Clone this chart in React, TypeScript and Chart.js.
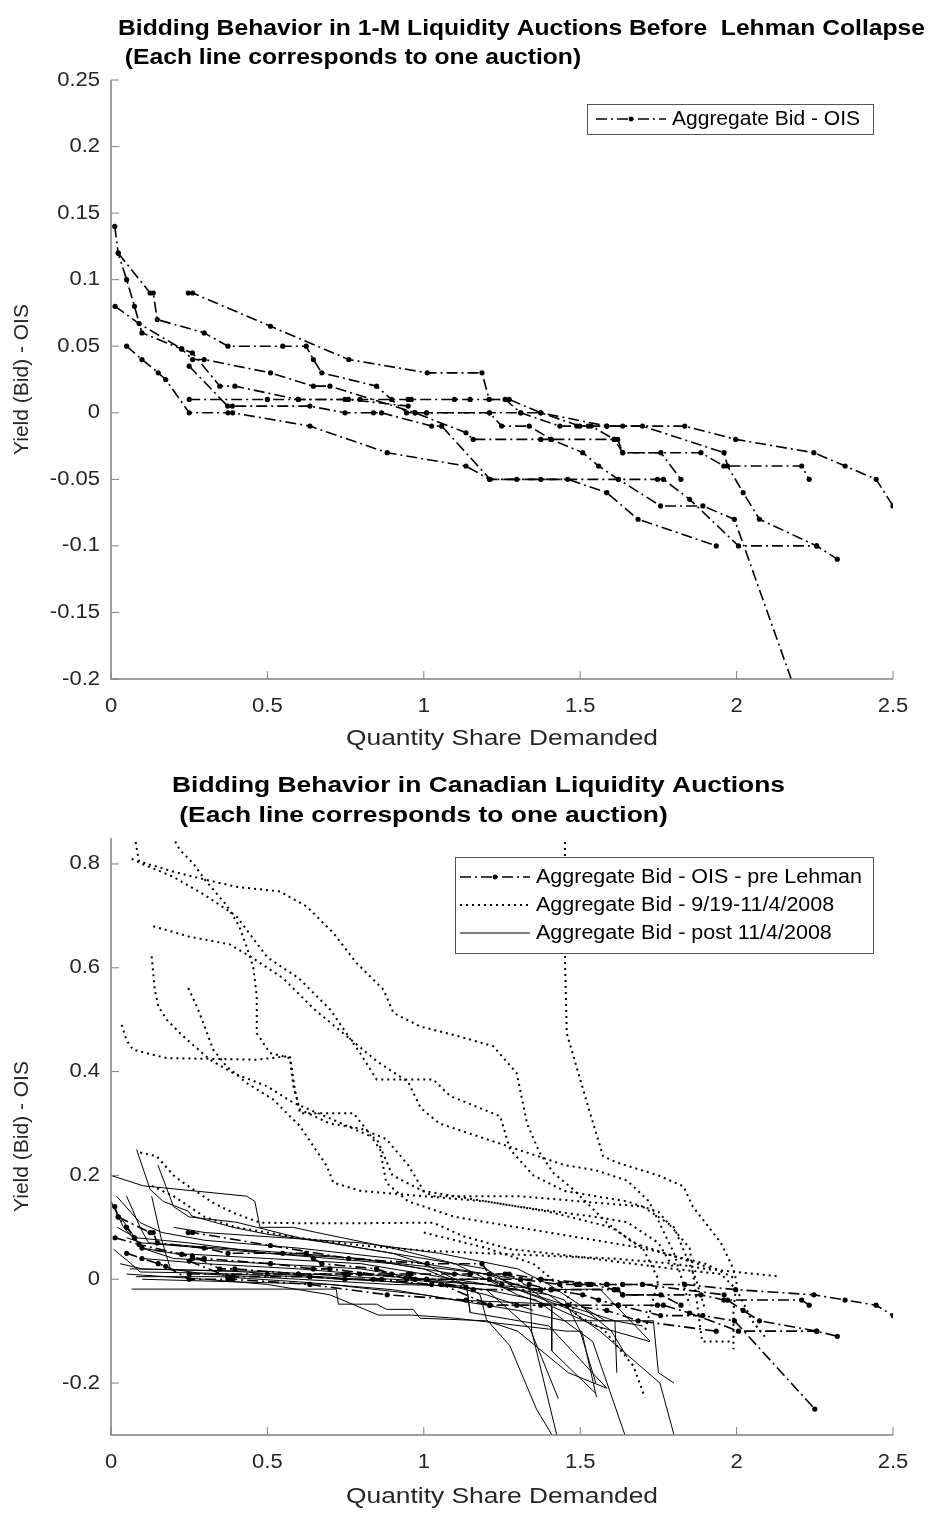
import { useEffect, useRef } from "react";
import { Chart, registerables } from "chart.js";

Chart.register(...registerables);

type Pt = [number, number];

const FONT = "'Liberation Sans', Arial, Helvetica, sans-serif";
const INK = "#000000";
const LABEL_INK = "#262626";
const AXIS_INK = "#808080";

// ---- axis ticks and texts ----
const X_TICKS = [0, 0.5, 1, 1.5, 2, 2.5];
const TOP_Y_TICKS = [-0.2, -0.15, -0.1, -0.05, 0, 0.05, 0.1, 0.15, 0.2, 0.25];
const BOTTOM_Y_TICKS = [-0.2, 0, 0.2, 0.4, 0.6, 0.8];

const TOP_TITLE = [
  "Bidding Behavior in 1-M Liquidity Auctions Before  Lehman Collapse",
  " (Each line corresponds to one auction)",
];
const BOTTOM_TITLE = [
  "Bidding Behavior in Canadian Liquidity Auctions",
  " (Each line corresponds to one auction)",
];
const X_LABEL = "Quantity Share Demanded";
const Y_LABEL = "Yield (Bid) - OIS";
const TOP_LEGEND = ["Aggregate Bid - OIS"];
const BOTTOM_LEGEND = [
  "Aggregate Bid - OIS - pre Lehman",
  "Aggregate Bid - 9/19-11/4/2008",
  "Aggregate Bid - post 11/4/2008",
];

// ---- pre-Lehman auctions (quantity share, yield - OIS) ----
const PRE_1: Pt[] = [[0.012,0.14],[0.023,0.12],[0.05,0.1],[0.075,0.08],[0.099,0.06],[0.226,0.048],[0.261,0.04],[0.298,0.04],[0.51,0.03],[0.647,0.02],[0.7,0.02],[0.972,0],[1.009,0],[1.21,0],[1.249,-0.01],[1.337,-0.01],[1.407,-0.02],[1.609,-0.02],[1.62,-0.02],[1.636,-0.03],[1.886,-0.03],[1.959,-0.04],[2.208,-0.04],[2.232,-0.05]];
const PRE_2: Pt[] = [[0.023,0.12],[0.125,0.09],[0.135,0.09],[0.148,0.07],[0.298,0.06],[0.374,0.05],[0.549,0.05],[0.624,0.05],[0.647,0.04],[0.674,0.03],[0.849,0.02],[0.945,0],[1.009,0],[1.21,0],[1.31,0],[1.374,0],[1.585,-0.01],[1.636,-0.01],[1.699,-0.01],[1.96,-0.03],[1.971,-0.04],[2.021,-0.06],[2.073,-0.08],[2.256,-0.1],[2.322,-0.11]];
const PRE_3: Pt[] = [[0.013,0.08],[0.09,0.067],[0.226,0.048],[0.26,0.045],[0.348,0.02],[0.396,0.02],[0.599,0.01],[0.748,0.01],[0.759,0.01],[0.95,0.005],[0.972,0],[1.135,-0.015],[1.158,-0.02],[1.374,-0.02],[1.407,-0.02],[1.508,-0.03],[1.559,-0.04],[1.622,-0.05],[1.757,-0.07],[1.892,-0.07],[1.993,-0.08],[2.25,-0.25]];
const PRE_4: Pt[] = [[0.05,0.05],[0.099,0.04],[0.151,0.03],[0.175,0.025],[0.25,0],[0.374,0],[0.389,0],[0.636,-0.01],[0.883,-0.03],[1.135,-0.04],[1.21,-0.05],[1.46,-0.05],[1.585,-0.06],[1.685,-0.08],[1.935,-0.1]];
const PRE_5: Pt[] = [[0.25,0.035],[0.373,0.005],[0.388,0.005],[0.636,0.005],[0.748,0],[0.839,0],[0.865,0],[1.025,-0.01],[1.057,-0.01],[1.212,-0.05],[1.297,-0.05],[1.374,-0.05],[1.622,-0.05],[1.747,-0.05],[1.766,-0.05],[1.85,-0.065],[2.006,-0.1],[2.256,-0.1]];
const PRE_6: Pt[] = [[0.247,0.09],[0.261,0.09],[0.51,0.065],[0.76,0.04],[1.011,0.03],[1.186,0.03],[1.209,0.01],[1.273,0.01],[1.374,0],[1.499,-0.01],[1.585,-0.01],[1.834,-0.01],[1.997,-0.02],[2.247,-0.03],[2.347,-0.04],[2.446,-0.05],[2.5,-0.07]];
const PRE_7: Pt[] = [[0.25,0.01],[0.5,0.01],[0.599,0.01],[0.796,0.01],[0.897,0.01],[0.95,0.01],[0.96,0.01],[1.098,0.01],[1.148,0.01],[1.26,0.01],[1.31,0],[1.435,-0.01],[1.489,-0.01],[1.526,-0.01],[1.535,-0.01],[1.609,-0.02],[1.636,-0.03],[1.758,-0.03],[1.822,-0.05]];
const PRE_LEHMAN = [PRE_1, PRE_2, PRE_3, PRE_4, PRE_5, PRE_6, PRE_7];

// ---- auctions between 9/19 and 11/4/2008 ----
const MID_1: Pt[] = [[1.451,0.9],[1.452,0.6],[1.457,0.474],[1.5,0.385],[1.531,0.321],[1.573,0.237],[1.617,0.225],[1.75,0.2],[1.83,0.179],[1.86,0.14],[1.95,0.07],[1.97,0.045],[1.99,0.02],[2.0,-0.005],[1.99,-0.06],[1.99,-0.135]];
const MID_2: Pt[] = [[0.195,0.9],[0.2,0.849],[0.22,0.827],[0.263,0.801],[0.3,0.77],[0.37,0.72],[0.41,0.68],[0.434,0.64],[0.455,0.6],[0.466,0.545],[0.466,0.474],[0.508,0.436],[0.572,0.426],[0.583,0.372],[0.604,0.327],[0.7,0.3],[0.8,0.29],[0.88,0.27],[0.95,0.22],[1.0,0.17],[1.1,0.16],[1.3,0.14],[1.55,0.12],[1.65,0.11],[1.75,0.07],[1.8,0.02]];
const MID_3: Pt[] = [[0.075,0.9],[0.077,0.849],[0.085,0.82],[0.09,0.805],[0.2,0.785],[0.3,0.77],[0.4,0.756],[0.54,0.747],[0.626,0.718],[0.711,0.667],[0.785,0.609],[0.871,0.558],[0.903,0.513],[0.988,0.487],[1.1,0.47],[1.222,0.449],[1.297,0.397],[1.33,0.3],[1.37,0.244],[1.414,0.205],[1.478,0.173],[1.52,0.148],[1.585,0.109],[1.67,0.07],[1.797,0.045],[1.925,0.02]];
const MID_4: Pt[] = [[0.066,0.81],[0.1,0.8],[0.2,0.775],[0.3,0.74],[0.4,0.7],[0.45,0.66],[0.5,0.62],[0.6,0.58],[0.7,0.52],[0.796,0.436],[0.849,0.385],[1.03,0.385],[1.084,0.353],[1.244,0.314],[1.276,0.25],[1.35,0.2],[1.45,0.17],[1.55,0.16],[1.65,0.15],[1.75,0.13],[1.85,0.06],[1.89,-0.12],[1.99,-0.12]];
const MID_5: Pt[] = [[0.135,0.68],[0.25,0.66],[0.38,0.645],[0.45,0.62],[0.55,0.58],[0.65,0.52],[0.75,0.47],[0.85,0.42],[0.95,0.38],[0.99,0.33],[1.05,0.3],[1.2,0.27],[1.3,0.25],[1.45,0.22],[1.55,0.21],[1.65,0.19],[1.72,0.15],[1.8,0.05],[1.85,-0.05]];
const MID_6: Pt[] = [[0.13,0.622],[0.14,0.558],[0.151,0.526],[0.178,0.5],[0.231,0.468],[0.316,0.423],[0.391,0.397],[0.498,0.372],[0.583,0.34],[0.7,0.31],[0.85,0.27],[0.9,0.2],[1.03,0.16],[1.307,0.16],[1.5,0.15],[1.7,0.14],[1.8,0.1],[1.87,0.0],[1.9,-0.06]];
const MID_7: Pt[] = [[0.247,0.561],[0.274,0.526],[0.295,0.494],[0.327,0.442],[0.37,0.41],[0.434,0.378],[0.519,0.346],[0.562,0.32],[0.604,0.295],[0.69,0.218],[0.711,0.186],[0.8,0.17],[1.0,0.16],[1.2,0.15],[1.4,0.13],[1.6,0.1],[1.7,0.06],[1.75,0.0],[1.707,-0.1]];
const MID_8: Pt[] = [[0.034,0.49],[0.05,0.46],[0.071,0.442],[0.178,0.426],[0.466,0.423],[0.572,0.43],[0.588,0.365],[0.604,0.32],[0.775,0.32],[0.817,0.288],[0.86,0.25],[0.88,0.186],[0.95,0.15],[1.1,0.12],[1.3,0.1],[1.5,0.08],[1.7,0.06],[1.9,0.03],[2.0,0.0]];
const MID_9: Pt[] = [[0.093,0.244],[0.146,0.237],[0.2,0.2],[0.231,0.186],[0.327,0.147],[0.391,0.128],[0.476,0.109],[0.6,0.108],[0.8,0.108],[1.03,0.109],[1.126,0.083],[1.276,0.058],[1.4,0.05],[1.6,0.035],[1.8,0.02],[1.95,0.01],[2.0,-0.02],[2.05,-0.08],[2.096,-0.115]];
const MID_10: Pt[] = [[0.13,0.18],[0.2,0.16],[0.3,0.12],[0.4,0.1],[0.5,0.09],[0.6,0.08],[0.8,0.065],[1.0,0.055],[1.2,0.05],[1.4,0.045],[1.6,0.04],[1.8,0.03],[1.9,0.02],[2.128,0.006]];
const MID_11: Pt[] = [[1.0,0.09],[1.2,0.06],[1.35,0.03],[1.45,-0.02],[1.489,-0.07],[1.574,-0.096],[1.67,-0.167],[1.707,-0.228]];
const MID_CRISIS = [MID_1, MID_2, MID_3, MID_4, MID_5, MID_6, MID_7, MID_8, MID_9, MID_10, MID_11];

// ---- auctions after 11/4/2008 ----
const POST_1: Pt[] = [[0,0.2],[0.103,0.18],[0.434,0.16],[0.46,0.15],[0.476,0.1],[0.583,0.1],[0.658,0.09],[0.9,0.06],[1.1,0.03],[1.2,0],[1.3,-0.03],[1.4,-0.05],[1.55,-0.09],[1.723,-0.12]];
const POST_2: Pt[] = [[0.082,0.25],[0.125,0.173],[0.167,0.15],[0.247,0.131],[0.258,0.122],[0.39,0.1],[0.498,0.087],[0.7,0.07],[0.9,0.05],[1.0,0.03],[1.1,0],[1.18,-0.03],[1.2,-0.077],[1.275,-0.128],[1.36,-0.25],[1.41,-0.3]];
const POST_3: Pt[] = [[0.13,0.16],[0.16,0.08],[0.19,0.02],[0.3,0.01],[0.6,0],[0.9,-0.01],[1.137,-0.013],[1.148,-0.064],[1.4,-0.09],[1.585,-0.21]];
const POST_4: Pt[] = [[0.018,0.16],[0.093,0.109],[0.163,0.09],[0.3,0.075],[0.6,0.06],[0.9,0.04],[1.1,0.02],[1.3,0],[1.409,-0.05],[1.409,-0.138],[1.55,-0.22]];
const POST_5: Pt[] = [[0.05,0.16],[0.093,0.1],[0.12,0.07],[0.35,0.06],[0.7,0.045],[1.0,0.025],[1.2,0.01],[1.34,-0.02],[1.345,-0.1],[1.425,-0.3]];
const POST_6: Pt[] = [[0.008,0.058],[0.06,0.032],[0.093,0.014],[0.3,0.012],[0.6,0.005],[0.9,-0.005],[1.2,-0.02],[1.34,-0.096],[1.43,-0.23]];
const POST_7: Pt[] = [[0.029,0.03],[0.1,0.02],[0.4,0.015],[0.8,0],[1.0,-0.01],[1.2,-0.02],[1.36,-0.04],[1.54,-0.12],[1.643,-0.3]];
const POST_8: Pt[] = [[0.066,-0.019],[0.72,-0.019],[0.727,-0.048],[0.849,-0.048],[0.881,-0.058],[0.966,-0.058],[0.988,-0.075],[1.2,-0.08],[1.3,-0.1],[1.462,-0.18],[1.585,-0.21]];
const POST_9: Pt[] = [[0.05,0.01],[0.3,0],[0.5,-0.01],[0.7,-0.03],[0.855,-0.069],[0.961,-0.069],[1.1,-0.075],[1.457,-0.1],[1.505,-0.1],[1.552,-0.227]];
const POST_10: Pt[] = [[0.03,0.12],[0.1,0.06],[0.2,0.05],[0.5,0.04],[0.8,0.03],[1.0,0.01],[1.3,-0.02],[1.563,-0.08],[1.734,-0.08],[1.75,-0.18],[1.8,-0.2]];
const POST_11: Pt[] = [[0.1,0.04],[0.3,0.03],[0.6,0.02],[0.9,0.005],[1.2,-0.01],[1.4,-0.03],[1.563,-0.1],[1.755,-0.2],[1.8,-0.3]];
const POST_12: Pt[] = [[0.02,0.1],[0.08,0.08],[0.25,0.07],[0.5,0.05],[0.8,0.04],[1.0,0.02],[1.137,-0.013],[1.148,-0.064]];
const POST_13: Pt[] = [[0.15,0.22],[0.2,0.14],[0.25,0.12],[0.4,0.11],[0.6,0.08],[0.8,0.06],[1.0,0.04],[1.2,0.02],[1.3,-0.02],[1.611,-0.08],[1.617,-0.18]];
const POST_14: Pt[] = [[0.06,0.02],[0.5,0.015],[0.9,0],[1.2,-0.01],[1.4,-0.02],[1.563,-0.019],[1.723,-0.119]];
const POST_15: Pt[] = [[0.1,0],[0.4,-0.005],[0.7,-0.01],[1.0,-0.03],[1.2,-0.05],[1.3,-0.06],[1.45,-0.08],[1.61,-0.08],[1.7,-0.09]];
const POST_16: Pt[] = [[0.08,0.005],[0.35,0.005],[0.6,-0.005],[0.9,-0.02],[1.1,-0.04],[1.3,-0.045],[1.5,-0.05],[1.58,-0.08]];
const POST_17: Pt[] = [[0.05,0.08],[0.1,0.07],[0.3,0.06],[0.6,0.045],[0.9,0.03],[1.1,0.01],[1.3,-0.01],[1.45,-0.04],[1.5,-0.1],[1.55,-0.2]];
const POST_18: Pt[] = [[0.2,0.1],[0.3,0.09],[0.55,0.08],[0.8,0.07],[1.05,0.05],[1.3,0.02],[1.4,-0.01],[1.5,-0.05],[1.6,-0.1],[1.65,-0.15]];
const POST_19: Pt[] = [[0,0.15],[0.04,0.1],[0.1,0.06],[0.2,0.04],[0.5,0.03],[0.8,0.02],[1.0,0],[1.2,-0.03],[1.3,-0.05],[1.35,-0.06]];
const POST_NOV = [POST_1, POST_2, POST_3, POST_4, POST_5, POST_6, POST_7, POST_8, POST_9, POST_10, POST_11, POST_12, POST_13, POST_14, POST_15, POST_16, POST_17, POST_18, POST_19];

// ---- line styles ----
type Style = "dashdot" | "dotted" | "solid";
const DASH_DOT = [11, 4, 2, 4];
const DOTS = [2, 4];
const TICK_LEN = 8;
const TICK_SIZE = 20;
const TICK_STRETCH = 1.1;

const toXY = (pts: Pt[]) => pts.map(([x, y]) => ({ x, y }));

function makeDataset(pts: Pt[], style: Style) {
  if (style === "dashdot") {
    return {
      data: toXY(pts),
      borderColor: INK,
      borderWidth: 1.6,
      borderDash: DASH_DOT,
      pointRadius: 2.6,
      pointBackgroundColor: INK,
      pointBorderWidth: 0,
      pointHoverRadius: 0,
      fill: false,
    };
  }
  if (style === "dotted") {
    return {
      data: toXY(pts),
      borderColor: INK,
      borderWidth: 2,
      borderDash: DOTS,
      pointRadius: 0,
      fill: false,
    };
  }
  return {
    data: toXY(pts),
    borderColor: INK,
    borderWidth: 1,
    pointRadius: 0,
    fill: false,
  };
}

const fmt = (v: number) => String(Number(v.toFixed(2)));

function stretchedText(
  ctx: CanvasRenderingContext2D,
  text: string,
  x: number,
  y: number,
  sx: number,
  align: CanvasTextAlign
) {
  ctx.save();
  ctx.translate(x, y);
  ctx.scale(sx, 1);
  ctx.textAlign = align;
  ctx.fillText(text, 0, 0);
  ctx.restore();
}

function drawSample(ctx: CanvasRenderingContext2D, style: Style, x0: number, x1: number, y: number) {
  ctx.save();
  ctx.strokeStyle = INK;
  ctx.fillStyle = INK;
  ctx.beginPath();
  if (style === "dashdot") {
    ctx.lineWidth = 1.6;
    ctx.setLineDash(DASH_DOT);
  } else if (style === "dotted") {
    ctx.lineWidth = 2;
    ctx.setLineDash(DOTS);
  } else {
    ctx.lineWidth = 1;
    ctx.setLineDash([]);
  }
  ctx.moveTo(x0, y);
  ctx.lineTo(x1, y);
  ctx.stroke();
  if (style === "dashdot") {
    ctx.setLineDash([]);
    ctx.beginPath();
    ctx.arc((x0 + x1) / 2, y, 2.4, 0, Math.PI * 2);
    ctx.fill();
  }
  ctx.restore();
}

interface FrameOptions {
  yTicks: number[];
  title: string[];
  titleLeft: number;
  titleY: number[];
  titleWidth: number;
  yLabelX: number;
  xLabelY: number;
  xLabelWidth: number;
  legendBox: [number, number, number, number];
  legendRows: number[];
  legendStyles: Style[];
  legendLabels: string[];
  legendSample: [number, number];
  legendText: number;
  legendTextWidth: number;
}

const framePlugin = {
  id: "frame",
  afterDatasetsDraw(chart: any, _args: any, o: FrameOptions) {
    const { ctx, chartArea: a } = chart;
    const xs = chart.scales.x;
    const ys = chart.scales.y;
    ctx.save();

    // axes (left and bottom only) with inward ticks
    ctx.strokeStyle = AXIS_INK;
    ctx.lineWidth = 1.5;
    ctx.setLineDash([]);
    ctx.beginPath();
    ctx.moveTo(a.left, a.top);
    ctx.lineTo(a.left, a.bottom);
    ctx.lineTo(a.right, a.bottom);
    ctx.stroke();
    ctx.lineWidth = 1;
    ctx.beginPath();
    for (const v of X_TICKS) {
      const p = xs.getPixelForValue(v);
      ctx.moveTo(p, a.bottom);
      ctx.lineTo(p, a.bottom - TICK_LEN);
    }
    for (const v of o.yTicks) {
      const p = ys.getPixelForValue(v);
      ctx.moveTo(a.left, p);
      ctx.lineTo(a.left + TICK_LEN, p);
    }
    ctx.stroke();

    // tick labels
    ctx.fillStyle = LABEL_INK;
    ctx.font = `${TICK_SIZE}px ${FONT}`;
    ctx.textBaseline = "middle";
    for (const v of X_TICKS) {
      stretchedText(ctx, fmt(v), xs.getPixelForValue(v), a.bottom + 27, TICK_STRETCH, "center");
    }
    for (const v of o.yTicks) {
      stretchedText(ctx, fmt(v), a.left - 11, ys.getPixelForValue(v), TICK_STRETCH, "right");
    }

    // axis labels
    ctx.font = `22px ${FONT}`;
    const xw = ctx.measureText(X_LABEL).width;
    stretchedText(ctx, X_LABEL, (a.left + a.right) / 2, a.bottom + o.xLabelY, o.xLabelWidth / xw, "center");
    ctx.save();
    ctx.font = `21px ${FONT}`;
    ctx.translate(o.yLabelX, (a.top + a.bottom) / 2);
    ctx.rotate(-Math.PI / 2);
    ctx.textAlign = "center";
    ctx.fillText(Y_LABEL, 0, 0);
    ctx.restore();

    // title
    ctx.fillStyle = INK;
    ctx.font = `bold 22px ${FONT}`;
    const tw = ctx.measureText(o.title[0]).width;
    const ts = o.titleWidth / tw;
    o.title.forEach((line, i) => stretchedText(ctx, line, o.titleLeft, o.titleY[i], ts, "left"));

    // legend
    const [bx, by, bw, bh] = o.legendBox;
    const left = a.right - bx - bw;
    ctx.fillStyle = "#ffffff";
    ctx.fillRect(left, a.top + by, bw, bh);
    ctx.strokeStyle = "#555555";
    ctx.lineWidth = 1;
    ctx.strokeRect(left + 0.5, a.top + by + 0.5, bw, bh);
    ctx.font = `20px ${FONT}`;
    ctx.fillStyle = INK;
    ctx.textBaseline = "middle";
    const ls = o.legendTextWidth / ctx.measureText(o.legendLabels[0]).width;
    o.legendLabels.forEach((label, i) => {
      const ry = a.top + by + o.legendRows[i];
      drawSample(ctx, o.legendStyles[i], left + o.legendSample[0], left + o.legendSample[1], ry);
      stretchedText(ctx, label, left + o.legendText, ry, ls, "left");
    });

    ctx.restore();
  },
};

function buildConfig(datasets: any[], yMin: number, yMax: number, top: number, xHeight: number, frame: FrameOptions) {
  return {
    type: "line" as const,
    data: { datasets },
    options: {
      responsive: false,
      animation: false as const,
      devicePixelRatio: 1,
      events: [],
      layout: { padding: { left: 0, right: 37, top, bottom: 0 } },
      elements: { line: { tension: 0 } },
      plugins: {
        legend: { display: false },
        title: { display: false },
        tooltip: { enabled: false },
        frame,
      },
      scales: {
        x: {
          type: "linear" as const,
          min: 0,
          max: 2.5,
          grid: { display: false },
          border: { display: false },
          ticks: { display: false },
          afterFit: (s: any) => {
            s.height = xHeight;
          },
        },
        y: {
          type: "linear" as const,
          min: yMin,
          max: yMax,
          grid: { display: false },
          border: { display: false },
          ticks: { display: false },
          afterFit: (s: any) => {
            s.width = 111;
          },
        },
      },
    },
    plugins: [framePlugin],
  };
}

function useChart(ref: React.RefObject<HTMLCanvasElement | null>, make: () => any) {
  useEffect(() => {
    if (!ref.current) return;
    const chart = new Chart(ref.current, make());
    return () => chart.destroy();
  }, []);
}

export default function App() {
  const topRef = useRef<HTMLCanvasElement>(null);
  const bottomRef = useRef<HTMLCanvasElement>(null);

  useChart(topRef, () =>
    buildConfig(
      PRE_LEHMAN.map((p) => makeDataset(p, "dashdot")),
      -0.2,
      0.25,
      80,
      81,
      {
        yTicks: TOP_Y_TICKS,
        title: TOP_TITLE,
        titleLeft: 118,
        titleY: [29, 58],
        titleWidth: 807,
        yLabelX: 22,
        xLabelY: 60,
        xLabelWidth: 312,
        legendBox: [20, 24, 286, 30],
        legendRows: [15],
        legendStyles: ["dashdot"],
        legendLabels: TOP_LEGEND,
        legendSample: [9, 79],
        legendText: 85,
        legendTextWidth: 188,
      }
    )
  );

  useChart(bottomRef, () =>
    buildConfig(
      [
        ...PRE_LEHMAN.map((p) => makeDataset(p, "dashdot")),
        ...MID_CRISIS.map((p) => makeDataset(p, "dotted")),
        ...POST_NOV.map((p) => makeDataset(p, "solid")),
      ],
      -0.3,
      0.85,
      78,
      79,
      {
        yTicks: BOTTOM_Y_TICKS,
        title: BOTTOM_TITLE,
        titleLeft: 172,
        titleY: [26, 56],
        titleWidth: 613,
        yLabelX: 22,
        xLabelY: 62,
        xLabelWidth: 312,
        legendBox: [20, 19, 418, 96],
        legendRows: [20, 48, 76],
        legendStyles: ["dashdot", "dotted", "solid"],
        legendLabels: BOTTOM_LEGEND,
        legendSample: [5, 75],
        legendText: 81,
        legendTextWidth: 326,
      }
    )
  );

  return (
    <div style={{ position: "absolute", left: 0, top: 0, width: 930, height: 1514, background: "#ffffff" }}>
      <canvas ref={topRef} width={930} height={760} style={{ position: "absolute", left: 0, top: 0 }} />
      <canvas ref={bottomRef} width={930} height={754} style={{ position: "absolute", left: 0, top: 760 }} />
    </div>
  );
}
